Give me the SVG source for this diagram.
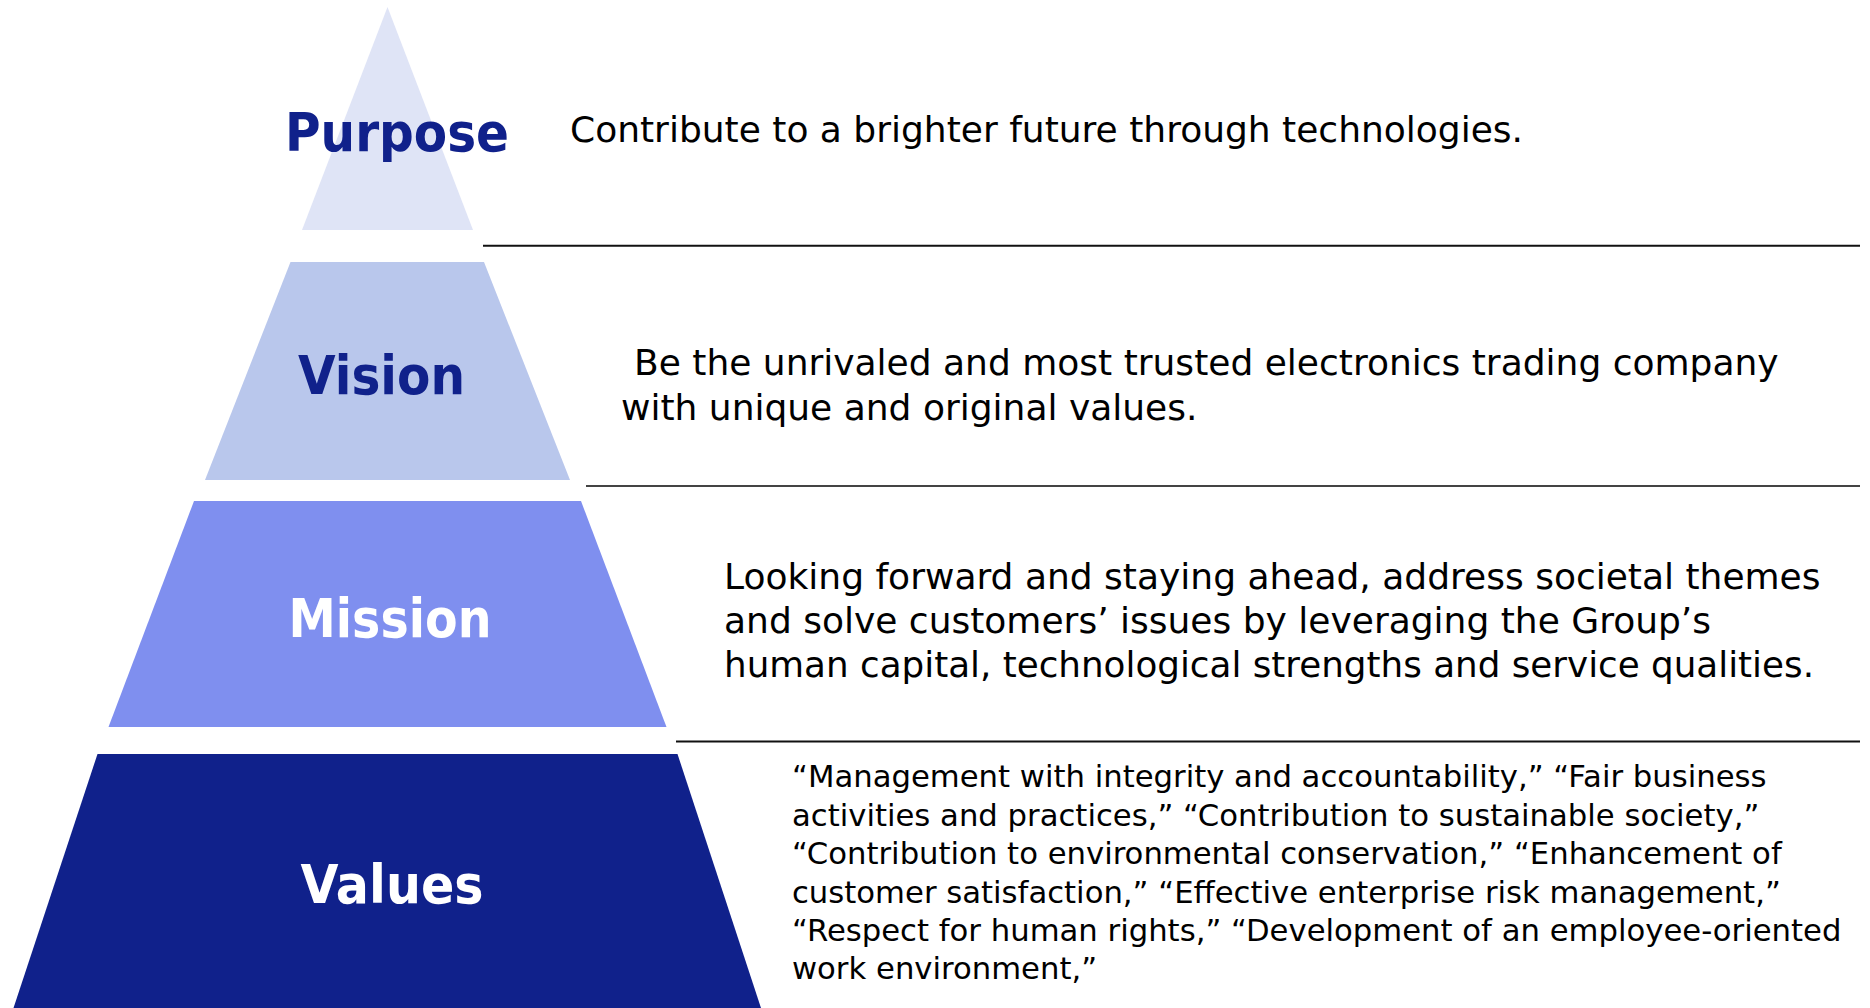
<svg xmlns="http://www.w3.org/2000/svg" width="1870" height="1008" viewBox="0 0 1870 1008">
<style>
.lbl{font-family:"DejaVu Sans","Liberation Sans",sans-serif;font-weight:bold;font-size:54px;text-anchor:middle}
.navy{fill:#10218b}
.white{fill:#ffffff}
.body{font-family:"DejaVu Sans","Liberation Sans",sans-serif;font-size:36px;fill:#000000}
.small{font-family:"DejaVu Sans","Liberation Sans",sans-serif;font-size:30.7px;fill:#000000}
.sep{stroke-width:2;fill:none}
</style>
<rect x="0" y="0" width="1870" height="1008" fill="#ffffff"/>
<g id="purpose">
  <polygon points="387.5,7 473,230 302,230" fill="#dfe4f6"/>
  <text class="lbl navy" x="397" y="151" textLength="224" lengthAdjust="spacingAndGlyphs">Purpose</text>
  <text class="body" x="570" y="141.5">Contribute to a brighter future through technologies.</text>
</g>
<g id="vision">
  <polygon points="290.5,262 484,262 570,480 205,480" fill="#b9c7ec"/>
  <text class="lbl navy" x="381.5" y="394" textLength="167" lengthAdjust="spacingAndGlyphs">Vision</text>
  <text class="body" x="634" y="375">Be the unrivaled and most trusted electronics trading company</text>
  <text class="body" x="621" y="420">with unique and original values.</text>
</g>
<g id="mission">
  <polygon points="194,501 581,501 666.5,727 108.5,727" fill="#7f8fef"/>
  <text class="lbl white" x="390" y="637" textLength="203" lengthAdjust="spacingAndGlyphs">Mission</text>
  <text class="body" x="724" y="589">Looking forward and staying ahead, address societal themes</text>
  <text class="body" x="724" y="633">and solve customers’ issues by leveraging the Group’s</text>
  <text class="body" x="724" y="677" textLength="1090" lengthAdjust="spacingAndGlyphs">human capital, technological strengths and service qualities.</text>
</g>
<g id="values">
  <polygon points="97.5,754 677.5,754 761,1008 13.5,1008" fill="#10218b"/>
  <text class="lbl white" x="392" y="903" textLength="183" lengthAdjust="spacingAndGlyphs">Values</text>
  <text class="small" x="792" y="787">“Management with integrity and accountability,” “Fair business</text>
  <text class="small" x="792" y="825.5">activities and practices,” “Contribution to sustainable society,”</text>
  <text class="small" x="792" y="864">“Contribution to environmental conservation,” “Enhancement of</text>
  <text class="small" x="792" y="902.5">customer satisfaction,” “Effective enterprise risk management,”</text>
  <text class="small" x="792" y="940.5">“Respect for human rights,” “Development of an employee-oriented</text>
  <text class="small" x="792" y="979">work environment,”</text>
</g>
<g id="connectors">
  <line class="sep" x1="483" y1="245.7" x2="1860" y2="245.7" stroke="#111111"/>
  <line class="sep" x1="586" y1="486" x2="1860" y2="486" stroke="#444444"/>
  <line class="sep" x1="676" y1="741.5" x2="1860" y2="741.5" stroke="#111111"/>
</g>
</svg>
